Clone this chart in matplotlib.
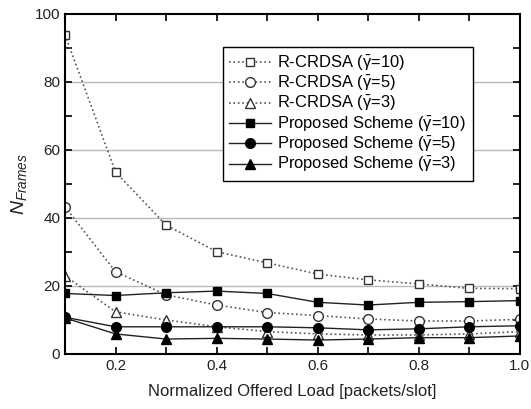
import matplotlib
matplotlib.use("Agg")
import matplotlib.pyplot as plt
from matplotlib.ticker import MultipleLocator

plt.rcParams['font.family'] = ['Liberation Sans', 'DejaVu Sans']
plt.rcParams['mathtext.fontset'] = 'custom'
plt.rcParams['mathtext.rm'] = 'Liberation Sans'
plt.rcParams['mathtext.it'] = 'Liberation Sans:italic'
plt.rcParams['mathtext.bf'] = 'Liberation Sans:bold'
plt.rcParams['mathtext.default'] = 'regular'

load = [0.1, 0.2, 0.3, 0.4, 0.5, 0.6, 0.7, 0.8, 0.9, 1.0]
rcrdsa_g10 = [93.9, 53.5, 37.9, 30.1, 26.8, 23.5, 21.8, 20.6, 19.3, 19.2]
rcrdsa_g5 = [43.3, 24.2, 17.4, 14.4, 12.2, 11.3, 10.3, 9.7, 9.7, 10.2]
rcrdsa_g3 = [23.0, 12.4, 10.0, 8.0, 6.6, 5.9, 5.6, 5.6, 5.9, 6.6]
prop_g10 = [17.8, 17.2, 18.0, 18.5, 17.8, 15.2, 14.4, 15.2, 15.4, 15.7]
prop_g5 = [10.8, 8.0, 8.0, 8.0, 8.0, 7.7, 7.1, 7.4, 8.0, 8.3]
prop_g3 = [10.6, 5.9, 4.4, 4.6, 4.4, 4.1, 4.4, 4.8, 4.8, 5.3]

labels = [r'R-CRDSA ($\bar{\gamma}$=10)', r'R-CRDSA ($\bar{\gamma}$=5)', r'R-CRDSA ($\bar{\gamma}$=3)',
          r'Proposed Scheme ($\bar{\gamma}$=10)', r'Proposed Scheme ($\bar{\gamma}$=5)',
          r'Proposed Scheme ($\bar{\gamma}$=3)']

fig = plt.figure(figsize=(5.31, 4.09), dpi=100)
ax = fig.add_axes([0.1224, 0.1345, 0.8566, 0.8313])

for v in [20, 40, 60, 80]:
    ax.axhline(v, color='#b8b8b8', lw=1.0, zorder=0)

dcol = '#555555'
ms = 6
ax.plot(load, rcrdsa_g10, ls=':', color=dcol, lw=1.2, marker='s', mfc='white', mec='#333333', ms=ms, label=labels[0])
ax.plot(load, rcrdsa_g5, ls=':', color=dcol, lw=1.2, marker='o', mfc='white', mec='#333333', ms=ms + 1, label=labels[1])
ax.plot(load, rcrdsa_g3, ls=':', color=dcol, lw=1.2, marker='^', mfc='white', mec='#333333', ms=ms + 1, label=labels[2])
ax.plot(load, prop_g10, ls='-', color='#222222', lw=1.0, marker='s', mfc='black', mec='black', ms=ms, label=labels[3])
ax.plot(load, prop_g5, ls='-', color='#222222', lw=1.0, marker='o', mfc='black', mec='black', ms=ms + 1, label=labels[4])
ax.plot(load, prop_g3, ls='-', color='#222222', lw=1.0, marker='^', mfc='black', mec='black', ms=ms + 1, label=labels[5])

ax.set_xlim(0.1, 1.0)
ax.set_ylim(0, 100)
ax.xaxis.set_major_locator(MultipleLocator(0.2))
ax.xaxis.set_minor_locator(MultipleLocator(0.1))
ax.yaxis.set_major_locator(MultipleLocator(20))
ax.yaxis.set_minor_locator(MultipleLocator(10))
ax.tick_params(which='both', direction='in', top=True, right=True, width=1.2, colors='black', labelsize=11)
ax.tick_params(which='major', length=5)
ax.tick_params(which='minor', length=5)
ax.set_xticks([0.2, 0.4, 0.6, 0.8, 1.0])
ax.set_xticklabels(['0.2', '0.4', '0.6', '0.8', '1.0'])
for lab in ax.get_xticklabels() + ax.get_yticklabels():
    lab.set_color('#222222')
for sp in ax.spines.values():
    sp.set_linewidth(1.5)

ax.set_xlabel('Normalized Offered Load [packets/slot]', fontsize=12, color='#222222', labelpad=8)
ax.set_ylabel(r'$\mathit{N}_{\mathit{Frames}}$', fontsize=14, color='#222222', labelpad=4)

leg = ax.legend(loc='upper left', bbox_to_anchor=(0.347, 0.903), fontsize=11.9, frameon=True,
                fancybox=False, edgecolor='black', framealpha=1, handlelength=2.5,
                labelspacing=0.07, borderpad=0.4, handletextpad=0.4, borderaxespad=0)
leg.get_frame().set_linewidth(1.0)

fig.savefig('out.png', dpi=100)
